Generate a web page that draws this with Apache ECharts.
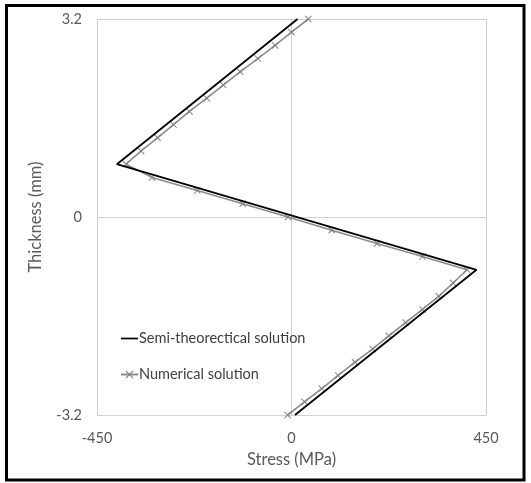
<!DOCTYPE html>
<html>
<head>
<meta charset="utf-8">
<script src="https://cdn.jsdelivr.net/npm/echarts@6/dist/echarts.min.js"></script>
<style>
  html, body {margin: 0; padding: 0; background: #fff;}
  #chart {width: 531px; height: 483px;}
</style>
</head>
<body>
<div id="chart"></div>
<script>
// thickness positions (mm) for the numerical solution, top to bottom
const numThickness = [3.2, 2.987, 2.773, 2.56, 2.347, 2.133, 1.92, 1.707, 1.493, 1.28, 1.067,
    0.853, 0.64, 0.427, 0.213, 0, -0.213, -0.427, -0.64, -0.853, -1.067,
    -1.28, -1.493, -1.707, -1.92, -2.133, -2.347, -2.56, -2.773, -2.987, -3.2];
const numStress = [39, 0, -38, -78, -119, -158, -196, -236, -273, -310, -348,
    -383, -323, -218, -113, -8, 93, 198, 303, 406, 374,
    341, 303, 264, 225, 188, 147, 108, 70, 30, -9];

const semiThickness = [3.2, 0.853, -0.853, -3.2];
const semiStress = [14, -404, 428, 8];

const xTicks = [-450, 0, 450];
const yTicks = [-3.2, 0, 3.2];

const font = 'Lato, "Liberation Sans", sans-serif';
const crossPath = 'path://M0,1L1,0L10,9L9,10ZM9,0L10,1L1,10L0,9Z';

let chart = echarts.init(document.getElementById('chart'));
chart.setOption({
    animation: false,
    backgroundColor: '#ffffff',
    textStyle: {fontFamily: font},
    grid: {left: 97, right: 45, top: 19, bottom: 68},
    graphic: [{
        type: 'rect',
        shape: {x: 6.5, y: 5.5, width: 517.5, height: 474.5},
        style: {fill: 'none', stroke: '#000', lineWidth: 3},
        z: 100
    }],
    legend: {
        left: 115, top: 326, orient: 'vertical', itemGap: 21,
        itemWidth: 17, itemHeight: 10,
        textStyle: {fontFamily: font, fontSize: 14.5, color: '#404040', padding: [0, 0, 0, -4]},
        data: [
            {name: 'Semi-theorectical solution', icon: 'path://M0,4L20,4L20,6L0,6Z'},
            {name: 'Numerical solution'}
        ]
    },
    xAxis: {
        type: 'value', min: xTicks[0], max: xTicks[2], interval: 450,
        name: 'Stress (MPa)', nameLocation: 'middle', nameGap: 34,
        nameTextStyle: {fontFamily: font, fontSize: 16.5, color: '#595959'},
        axisLine: {show: false}, axisTick: {show: false},
        axisLabel: {fontFamily: font, fontSize: 14.5, color: '#595959', margin: 16},
        splitLine: {show: true, lineStyle: {color: '#d0d0d0', width: 1}}
    },
    yAxis: {
        type: 'value', min: yTicks[0], max: yTicks[2], interval: 3.2,
        name: 'Thickness (mm)', nameLocation: 'middle', nameGap: 53,
        nameTextStyle: {fontFamily: font, fontSize: 16.5, color: '#595959'},
        axisLine: {show: false}, axisTick: {show: false},
        axisLabel: {fontFamily: font, fontSize: 14.5, color: '#595959', margin: 15},
        splitLine: {show: true, lineStyle: {color: '#d0d0d0', width: 1}}
    },
    series: [
        {
            name: 'Semi-theorectical solution', type: 'line',
            data: semiStress.map((v, i) => [v, semiThickness[i]]),
            showSymbol: false, symbol: 'none',
            lineStyle: {color: '#000000', width: 1.8},
            itemStyle: {color: '#000000'},
            z: 3
        },
        {
            name: 'Numerical solution', type: 'line',
            data: numStress.map((v, i) => [v, numThickness[i]]),
            symbol: crossPath, symbolSize: 7, showAllSymbol: true,
            lineStyle: {color: '#8c8c8c', width: 1.6},
            itemStyle: {color: '#808080'},
            z: 2
        }
    ]
});
</script>
</body>
</html>
